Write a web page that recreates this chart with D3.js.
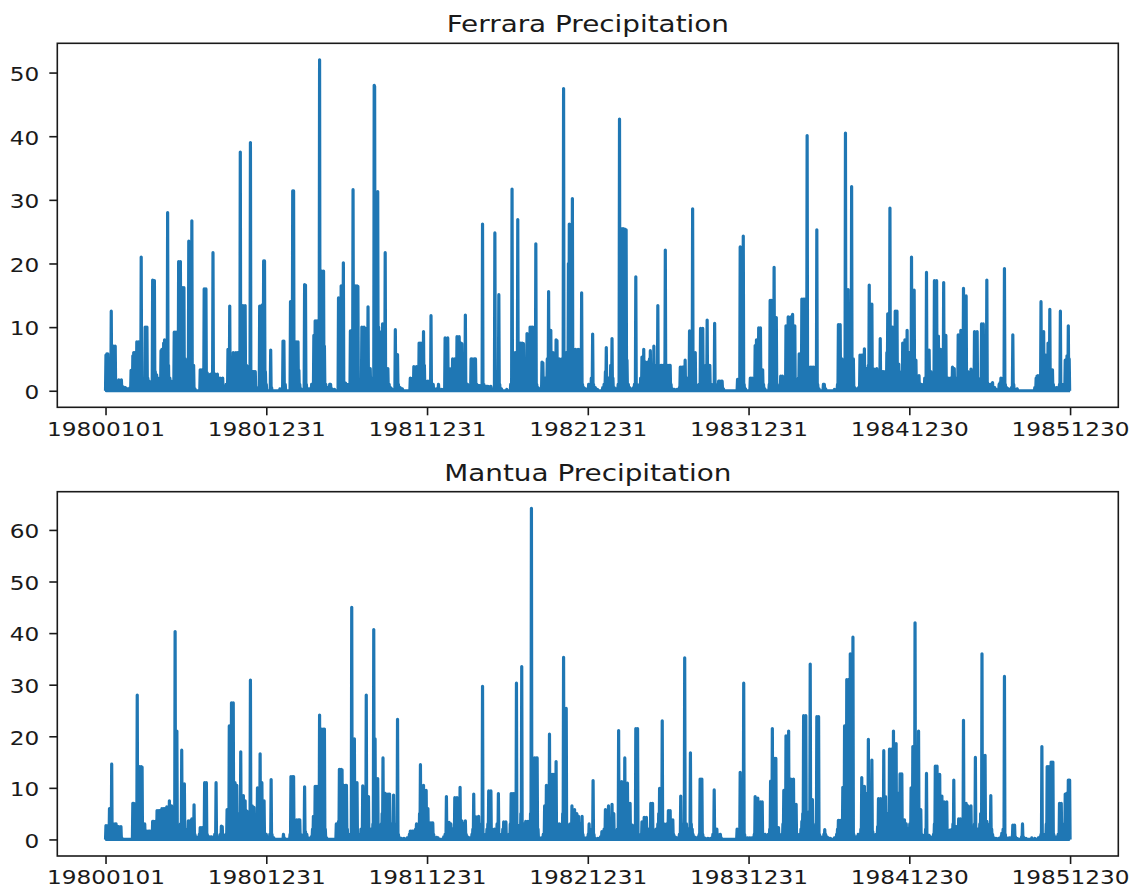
<!DOCTYPE html>
<html>
<head>
<meta charset="utf-8">
<script src="https://cdn.jsdelivr.net/npm/d3@7"></script>
<style>
  body { margin: 0; background: #fff; }
  svg { display: block; }
  text { font-family: "DejaVu Sans", sans-serif; fill: #1a1a1a; }
</style>
</head>
<body>
<svg id="chart" width="1134" height="888"></svg>
<script>
// Daily record 1980-01-01 .. 1985-12-30 (2191 days); days not listed had no rain.
const dayCount = 2191;
const tickDays = [0, 365, 730, 1095, 1460, 1825, 2190];
const tickLabels = ["19800101", "19801231", "19811231", "19821231", "19831231", "19841230", "19851230"];
const ferraraYTicks = [0, 10, 20, 30, 40, 50];
const mantuaYTicks = [0, 10, 20, 30, 40, 50, 60];

// [day index, precipitation in mm]
const ferraraRain = [
  [1,5.6],[3,5.8],[5,5.8],[7,1.2],[10,0.8],[13,12.5],[15,3],[18,7],[20,6.8],[22,7],[24,1],[30,1.7],[33,1.5],[36,1.7],[40,0.6],[45,0.5],[50,0.3],[55,0.4],
  [58,3.2],[60,1],[62,5.5],[64,6],[66,6],[68,2],[71,7.7],[73,7.5],[75,7.7],[78,1.5],[81,21],[84,2],[86,1],[90,10],[92,9.8],[94,10],[96,2],[99,1.5],[102,0.5],
  [107,17.4],[109,17],[111,17.3],[113,3],[116,2.5],[119,2],[122,1],[124,0.4],[126,6.3],[128,6.5],[130,6.3],[132,7.5],[134,8],[136,7.8],[138,4],[141,28],[143,4],
  [146,2],[149,1.5],[152,1],[156,9.2],[158,9],[160,9.2],[163,1],[166,20.3],[168,20],[170,20.3],[172,3],[174,16.2],[176,16],[178,16.2],[181,5],[184,2],[187,4.5],
  [189,23.5],[191,23.4],[193,5],[196,26.7],[198,4],[200,4],[203,0.3],[215,3.3],[217,3.2],[219,3.3],[222,1],[224,16],[226,15.8],[228,16],[231,2.8],[234,0.5],
  [236,2.5],[239,2.6],[241,1],[244,21.7],[246,2],[249,2.6],[251,2.5],[254,2.6],[257,0.4],[260,2],[263,1.8],[266,2],[270,0.5],[274,1],[278,6.5],[280,3],[282,13.3],
  [284,5],[286,4.8],[288,2],[290,6],[293,5.8],[296,6],[298,5.9],[300,6],[303,1],[306,37.5],[309,5],[312,13.4],[314,13.3],[317,13.4],[320,4],[323,3.8],[326,2],
  [329,39],[332,3],[335,3],[338,3],[340,3],[343,0.5],[350,13.3],[352,13.3],[354,2],[356,13.5],[359,20.4],[361,20.4],[363,3],[365,1],[375,6.4],[377,0.5],[396,0.3],
  [403,7.8],[405,7.8],[408,1],[420,14],[422,1],[425,31.4],[427,31.4],[429,3],[431,1],[433,7.7],[435,7.6],[437,7.7],[439,3.2],[441,1],[444,0.3],[452,16.7],[454,16.6],
  [456,1],[462,0.3],[468,1],[471,1],[473,8.7],[476,11],[478,10.9],[480,11],[483,1.5],[486,52],[489,7],[491,18.8],[493,18.7],[495,18.8],[497,7],[500,1],[504,0.5],
  [509,1],[511,1],[514,0.3],[520,0.2],[529,14.6],[531,14.5],[533,14.6],[535,16.5],[537,16.4],[540,20.1],[542,1.2],[545,1.2],[548,1],[551,0.5],[553,1],[556,9.4],
  [558,1],[562,31.6],[564,5],[567,16.5],[569,16.4],[571,16.5],[573,16.4],[575,1],[578,0.3],[582,10],[584,9.8],[587,10],[590,9.8],[593,2],[596,13.2],[598,3],
  [601,3.5],[603,1],[606,2],[610,48],[611,47.8],[615,4],[618,31.3],[620,10],[624,9.2],[626,3],[629,10.5],[632,4],[635,21.7],[637,3.5],[639,3.4],[641,3.5],[644,1],
  [647,0.5],[650,0.3],[658,9.6],[660,2],[663,5.7],[665,1],[669,0.5],[674,0.3],
  [692,2],[695,1.5],[698,2],[700,3.8],[702,3.7],[704,1],[706,3.8],[709,2],[712,7.5],[714,7.4],[716,7.5],[719,2],[722,9.3],[724,4],[727,1.5],[730,1],[732,1.5],
  [735,1],[739,11.8],[741,1],[744,1],[747,0.3],[752,0.3],[756,1],[758,0.3],[764,0.2],[771,8.3],[773,8.2],[775,2],[777,8.3],[780,3.5],[782,2],[785,3.5],[788,5],
  [790,3],[793,5],[795,2],[798,8.5],[800,8.4],[803,8.5],[805,3],[807,7.5],[809,7.4],[811,2],[814,1],[817,11.9],[819,1],[822,1],[826,0.5],[830,5],[832,5],[834,4.9],
  [837,5],[840,5],[843,1],[847,0.8],[850,0.8],[856,26.2],[859,1],[862,0.7],[865,0.7],[868,0.7],[871,0.6],[875,0.7],[880,0.3],[884,24.8],[886,3],[889,1],[891,2],
  [893,15.1],[895,1],[899,0.3],[911,0.2],[920,1],[923,31.7],[925,1],[928,3],[930,6],[932,1],[936,26.9],[939,2],[942,7.5],[944,7.4],[946,7.5],[949,7.4],[951,1],
  [955,2],[957,9],[959,2],[962,8],[964,10],[966,9.9],[968,10],[970,10],[972,2],[974,1],[977,23.1],[979,1],[982,0.5],[986,0.3],[991,4.5],[993,4.4],[995,1],[998,2],
  [1001,1],[1003,5],[1006,15.6],[1008,3],[1011,9.5],[1013,2],[1016,6],[1018,1],[1021,3],[1023,8],[1025,7.9],[1027,2],[1030,5],[1033,3],[1036,5],[1038,3],
  [1040,47.5],[1042,3],[1044,6],[1046,6],[1049,3],[1051,20],[1053,26.2],[1055,3],[1057,6],[1060,30.2],[1062,3],[1064,6.5],[1067,6.5],[1069,3],[1071,6.4],[1073,6.5],
  [1075,2],[1078,6.5],[1081,15.4],[1083,1],[1086,0.5],[1090,0.3],[1097,1],[1099,0.2],[1103,2],[1106,8.9],[1108,1],[1112,0.5],[1117,0.2],[1129,0.5],[1132,1],
  [1135,3],[1137,6.8],[1139,1],[1142,2],[1144,1],[1147,4],[1150,8.2],[1152,2],[1155,0.5],[1160,0.3],[1164,1],[1167,42.7],[1169,4],[1171,25.5],[1173,25.4],
  [1175,25.5],[1177,25.3],[1179,25.4],[1182,25.3],[1184,4.8],[1187,1],[1190,0.5],[1193,0.3],[1199,0.5],[1201,1],[1204,17.9],[1206,1],[1209,0.5],[1213,1],[1215,2],
  [1218,5.3],[1220,1],[1222,6.5],[1224,2],[1226,4.5],[1228,2],[1231,4.5],[1233,2],[1235,5],[1237,6.3],[1239,4],[1241,2],[1243,4],[1245,7],[1247,3],[1250,4],
  [1252,2],[1254,13.4],[1256,4],[1258,3],[1261,4],[1263,4],[1266,4],[1268,3],[1271,22.1],[1273,4],[1275,4],[1277,4],[1280,4],[1282,4],[1284,1],[1287,0.3],
  [1292,0.2],[1298,0.2],[1303,0.5],[1305,3.7],[1307,3.6],[1309,3.7],[1312,3.7],[1314,1],[1316,4.8],[1318,1],[1320,2],[1323,1],[1326,9.4],[1328,2],[1330,3],
  [1333,28.6],[1335,2],[1337,6],[1339,6],[1341,1],[1344,0.5],[1348,1],[1351,9.8],[1353,9.7],[1356,9.8],[1358,2],[1361,1],[1363,4],[1366,11.1],[1368,1],[1370,1],
  [1372,4],[1375,1],[1378,0.5],[1381,1],[1383,10.6],[1385,1],[1388,0.5],[1392,1.5],[1394,1.5],[1396,1.4],[1398,1.5],[1400,1.5],[1403,0.3],
  [1435,1.8],[1437,1.7],[1439,0.5],[1441,22.6],[1443,1],[1445,2],[1448,24.3],[1450,1],[1453,0.3],[1464,2],[1466,1.9],[1468,2],[1470,0.5],[1473,1],[1475,7.1],
  [1477,1],[1478,8],[1480,2],[1483,9.9],[1485,9.8],[1487,9.9],[1490,1],[1492,3.3],[1494,1],[1497,0.3],[1507,1],[1509,14.2],[1511,2],[1512,14.2],[1514,1],[1516,3],
  [1518,19.4],[1520,2],[1523,11.5],[1525,1],[1527,0.5],[1533,2.3],[1535,2.2],[1537,2.3],[1539,0.5],[1543,2],[1545,10.2],[1547,3],[1550,11.6],[1552,3],[1554,1],
  [1556,11.6],[1558,3],[1560,12],[1562,3],[1565,10.2],[1567,1],[1570,0.5],[1573,2],[1575,5.8],[1577,1],[1579,3],[1581,14.4],[1583,14.3],[1585,14.4],[1587,14.4],
  [1589,3],[1591,6],[1593,40.1],[1595,3],[1597,2],[1600,3.7],[1602,3.6],[1604,3.7],[1606,3.6],[1608,3.7],[1610,1],[1612,2],[1615,25.3],[1617,1],[1620,0.3],
  [1630,1],[1632,1],[1635,0.3],[1655,0.2],[1662,1],[1664,10.4],[1666,10.3],[1668,10.4],[1670,2],[1672,5],[1674,3],[1677,1],[1680,40.5],[1682,5],[1684,3],
  [1686,15.9],[1688,2],[1690,5],[1692,4],[1694,32.1],[1696,2],[1698,5],[1701,0.5],[1704,0.3],[1710,0.5],[1713,5.6],[1715,5.5],[1717,5.6],[1719,5.6],[1721,1],
  [1723,6.6],[1725,1],[1728,3.5],[1730,1],[1732,4],[1734,16.6],[1736,3],[1738,1],[1740,13.6],[1742,2],[1745,3.4],[1747,1],[1749,3],[1751,3.5],[1753,1],[1756,3],
  [1759,8.2],[1761,2],[1764,3],[1766,3],[1768,1],[1770,3],[1772,1],[1774,6],[1776,12.1],[1778,2],[1781,28.7],[1783,4],[1785,5],[1787,10],[1789,2],[1791,5],
  [1793,12.5],[1795,12.4],[1797,12.5],[1799,3],[1801,4.2],[1803,1],[1806,2],[1808,3],[1810,7.5],[1812,2],[1815,8],[1817,3],[1820,9.5],[1822,2],[1825,6],[1827,1],
  [1830,21],[1832,3],[1834,5],[1836,15.8],[1838,3],[1840,4.8],[1842,1],[1845,2],[1847,2.4],[1849,1],[1852,1],[1855,0.5],[1858,1],[1860,2],[1862,1],[1864,18.6],
  [1866,2],[1868,3],[1870,6.4],[1872,1],[1874,3],[1876,1],[1879,2],[1882,17.3],[1884,17.2],[1887,17.3],[1889,3],[1891,8.6],[1893,2],[1896,6.5],[1898,2],[1900,6],
  [1903,17],[1905,2],[1908,8.7],[1910,1],[1913,2],[1915,1],[1918,2],[1920,1],[1923,3.7],[1925,1],[1927,3.5],[1929,1],[1932,2],[1934,1],[1936,8.8],[1938,2],
  [1940,3],[1942,9.5],[1944,2],[1946,4],[1948,16.1],[1950,3],[1952,3],[1954,14.9],[1956,2],[1958,3],[1960,1],[1963,2],[1965,3.4],[1967,1],[1970,3],[1973,9.3],
  [1975,2],[1977,3],[1979,9.3],[1981,1],[1984,1],[1987,2],[1989,10.5],[1991,2],[1993,10.5],[1995,3],[1998,4],[2001,17.4],[2003,1],[2006,1],[2010,1],[2014,1.3],
  [2016,0.5],[2019,0.5],[2022,0.2],[2029,1],[2031,1.3],[2033,2],[2035,1],[2038,2],[2041,19.2],[2043,1],[2046,0.5],[2050,0.3],[2057,0.5],[2060,8.8],[2062,1],
  [2064,0.3],[2070,0.3],[2110,0.5],[2113,2],[2115,2.3],[2117,2.4],[2119,1],[2122,2],[2124,14],[2126,2],[2128,3],[2130,9.3],[2132,2],[2135,5.6],[2137,2],[2140,7.5],
  [2142,2],[2144,12.8],[2146,3],[2148,2],[2150,3.3],[2152,1],[2155,0.5],[2160,0.5],[2163,0.5],[2166,1],[2168,12.5],[2170,1],[2173,0.5],[2176,1],[2179,4.8],
  [2181,1],[2183,5.5],[2186,10.2],[2188,5]
];

const mantuaRain = [
  [1,2.7],[3,2.6],[5,2.7],[7,2.7],[9,6],[11,1],[14,14.6],[16,3],[18,3],[20,2.9],[22,3],[24,3],[26,1],[28,2.5],[30,2.5],[32,2.4],[35,2.5],[37,0.3],
  [62,7],[64,7],[66,6.9],[68,2],[70,3],[72,28],[74,5],[77,14.1],[79,14],[81,14.1],[83,14],[85,3],[87,2],[89,3],[91,1],[94,1.6],[96,1.5],[98,1.6],[101,1.6],
  [103,0.5],[105,1],[107,3.5],[109,3.5],[111,3.4],[113,3.5],[115,1],[117,5.6],[119,5.5],[121,5.6],[124,5.6],[126,2],[128,6],[130,5.9],[132,6],[134,6],[136,6],
  [138,2],[139,6.3],[141,2],[143,3],[145,7.5],[147,3],[150,6.5],[152,1],[155,2],[158,40.3],[160,3],[162,21],[164,2],[167,1],[170,3],[173,17.3],[175,3],[177,2],
  [179,10.8],[181,2],[183,1],[186,1],[188,3.6],[190,3.5],[192,3.6],[194,1],[196,4],[198,1],[201,6.7],[203,1],[206,0.5],[210,0.3],[213,1],[215,2.3],[217,2.2],
  [219,2.3],[221,0.5],[225,11],[227,10.9],[229,11],[231,1],[234,0.5],[237,0.5],[241,0.5],[245,0.3],[248,1],[251,11],[253,1],[256,0.3],[261,1],[263,2.6],[265,2.5],
  [267,1],[270,0.3],[274,1],[276,5.8],[278,5.7],[281,22],[283,5],[286,26.5],[288,26.4],[290,26.5],[292,5],[294,11],[296,5],[298,10.5],[300,3],[303,5],[305,2],
  [307,17],[309,3],[311,5],[313,8.5],[315,2],[317,7.5],[319,2],[321,5.5],[323,3],[326,2],[329,30.9],[331,3],[333,6.5],[335,2],[337,6.2],[339,2],[341,3],[343,1],
  [345,10],[347,2],[349,5],[351,16.6],[353,3],[355,11],[357,3],[360,7.5],[362,1],[365,1],[369,0.3],[373,1],[376,11.6],[378,1],[382,0.3],[404,1],[406,0.3],
  [419,1],[421,12.2],[423,12.1],[425,12.2],[427,12.2],[429,2],[432,1],[434,3.8],[436,3.7],[438,3.8],[441,3.8],[443,1],[446,0.5],[450,1],[452,10.2],[454,1.5],
  [457,1],[460,0.3],[467,0.5],[470,2],[472,4.5],[474,2],[476,10.3],[478,3],[480,10.3],[482,4],[484,5],[486,24.1],[488,5],[491,21.4],[493,21.3],[495,21.4],
  [497,21.4],[499,2],[502,0.3],
  [524,3],[527,1],[529,3.5],[531,13.6],[533,13.5],[535,13.6],[537,13.5],[539,2],[541,10.5],[543,10.4],[545,10.5],[547,10.5],[549,2],[551,0.5],[553,0.5],[556,1],
  [559,45],[561,3],[563,5],[565,19.5],[567,3],[569,2],[571,11],[573,1],[575,0.5],[578,1],[580,2],[582,1],[584,10.4],[586,3],[588,2],[590,5],[592,28],[594,3],
  [597,8.3],[599,2],[601,1],[603,2],[605,1],[607,3],[609,40.7],[611,3],[612,19.5],[614,3],[616,5],[618,11.8],[620,1],[622,2],[624,1],[626,3],[628,5],[630,15.8],
  [632,3],[634,9],[636,2],[639,8.8],[641,8.7],[643,8.8],[645,8.8],[647,2],[649,1],[651,3],[654,8.6],[656,1],[658,0.5],[660,3],[663,23.3],[665,1],[668,0.3],
  [672,0.2],[678,0.2],[685,0.3],[690,1],[692,1.6],[694,1.5],[696,1.6],[698,1.6],[700,1.6],[702,1],[704,2],[706,3],[708,1],[711,3],[713,5],[715,14.5],[717,3],
  [719,5],[722,10.5],[724,3],[726,4],[728,9.5],[730,2],[732,6],[734,1],[737,3.2],[739,3.1],[741,3.2],[743,3.2],[745,1],[748,0.3],[752,0.4],[755,0.3],[768,0.5],
  [771,1],[774,8.3],[776,3.3],[778,1],[780,3.3],[782,1],[784,3],[786,1],[788,2],[790,1],[793,8.1],[795,3],[798,8.1],[800,3],[802,4],[805,10.1],[807,2],[809,3.6],
  [811,2],[813,3],[815,1],[817,3.6],[819,1],[822,0.5],[826,0.3],[832,1],[834,2],[836,8.8],[838,2],[841,4.4],[843,1],[845,2],[847,4.5],[849,1],[852,2],[854,3],
  [856,29.7],[858,1],[861,0.5],[864,1],[866,2],[868,3],[870,9.4],[872,9.3],[875,9.4],[877,2],[880,1],[883,2],[886,1],[889,3],[892,8.9],[894,1],[897,0.5],[900,1],
  [902,2],[904,3.4],[906,3.3],[909,3.4],[911,1],[914,0.3],[917,1],[919,3],[921,8.9],[923,8.8],[925,8.9],[927,8.9],[929,2],[931,5],[933,30.3],[935,2.7],[937,1],
  [939,2.7],[941,1],[943,5],[945,33.5],[947,3],[949,1],[951,3],[954,3.5],[956,1],[959,3.5],[961,1],[963,3],[965,5],[967,64.2],[969,3],[971,5],[974,15.8],
  [976,15.7],[978,15.8],[980,15.8],[982,2],[985,0.3],[990,0.3],[994,1],[997,6.5],[999,2],[1001,10.5],[1003,3],[1005,5],[1008,20.4],[1010,3],[1012,5],[1014,12.6],
  [1016,3],[1018,12.6],[1020,3],[1023,15.1],[1025,3],[1027,2],[1030,3],[1033,1],[1036,3],[1038,5],[1040,35.3],[1042,3],[1044,5],[1046,25.4],[1048,3],[1050,2],
  [1053,1],[1055,3],[1057,2],[1059,6.5],[1061,3],[1063,4],[1065,5.8],[1067,2],[1070,5],[1072,2],[1074,4.5],[1076,2],[1078,3],[1080,1],[1082,4.5],[1084,1],
  [1087,0.3],[1092,0.3],[1096,1],[1098,3],[1100,1],[1103,0.5],[1105,2],[1107,11.4],[1109,1],[1112,0.2],[1118,0.2],[1124,0.5],[1127,1.5],[1129,0.5],[1132,2],
  [1135,5.8],[1137,2],[1139,3],[1142,6.5],[1144,2],[1146,3],[1148,2],[1150,6.8],[1152,2],[1154,5],[1156,1],[1159,0.5],[1162,2],[1165,21.1],[1167,3],[1169,5],
  [1172,11.2],[1174,3],[1176,5],[1179,15.8],[1181,3],[1183,5],[1185,10.9],[1187,2],[1189,3],[1191,7],[1193,1],[1196,2.8],[1198,1],[1201,0.5],[1204,21.5],
  [1206,3],[1208,21.5],[1210,1],[1213,0.5],[1216,1],[1218,3.4],[1220,1],[1223,4.3],[1225,2],[1228,4.3],[1230,1],[1232,2],[1234,1],[1236,2],[1238,7],[1240,2],
  [1242,7],[1244,1],[1247,1],[1250,2],[1252,1],[1254,3],[1256,5],[1258,9.9],[1260,2],[1262,4],[1264,23],[1266,2],[1268,3],[1270,2],[1272,1],[1274,3],[1276,1],
  [1278,5.6],[1280,2],[1282,5.6],[1284,1],[1286,2],[1288,3.8],[1290,1],[1293,0.5],[1297,0.3],[1300,0.3],[1303,1],[1306,8.4],[1308,1],[1311,2],[1313,3],
  [1315,35.2],[1317,2],[1319,3],[1321,1],[1323,2],[1325,1],[1328,16.8],[1330,3],[1332,2],[1334,1],[1337,0.5],[1341,0.3],[1346,0.5],[1348,1],[1350,11.7],
  [1352,1],[1354,11.7],[1356,1],[1359,0.3],[1362,0.2],[1368,0.2],[1374,0.2],[1379,1],[1382,9.6],[1384,2],[1386,1],[1388,2],[1390,1],[1393,0.5],[1396,1],
  [1398,0.3],[1434,2],[1436,1],[1438,2],[1441,13],[1443,3],[1446,5],[1449,30.3],[1451,1],[1454,0.3],[1458,0.3],[1463,0.3],[1468,0.3],[1473,1],[1475,8.3],
  [1477,2],[1479,1],[1481,8],[1483,2],[1485,1],[1487,7.3],[1489,2],[1491,7.3],[1493,1],[1495,0.5],[1498,1],[1501,0.5],[1505,1],[1508,2],[1510,11.3],[1512,2],
  [1514,21.5],[1516,2],[1518,15.7],[1520,2],[1522,15.7],[1524,2],[1526,1],[1528,2.3],[1530,1],[1533,0.5],[1536,1],[1538,3],[1540,9.5],[1542,3],[1545,20.1],
  [1547,3],[1549,5],[1551,21],[1553,3],[1556,11.7],[1558,3],[1560,4],[1562,11.7],[1564,3],[1566,5],[1568,6.8],[1570,1],[1573,0.5],[1576,1],[1579,2],[1581,3.5],
  [1583,5],[1585,24],[1587,23.9],[1590,24],[1592,3],[1594,5.3],[1596,1],[1598,3],[1600,34],[1602,3],[1605,7.7],[1607,1],[1610,0.5],[1613,3],[1615,23.8],
  [1617,3],[1619,23.8],[1621,1],[1624,0.5],[1627,0.3],[1631,1],[1633,1.9],[1635,1],[1638,0.5],[1641,0.3],[1646,0.2],[1655,0.3],[1660,1],[1662,2],[1664,3.7],
  [1666,1],[1668,3.7],[1670,2],[1672,3],[1674,10.1],[1676,3],[1678,22],[1680,3],[1683,31],[1685,5],[1687,31],[1689,5],[1691,36],[1693,5],[1695,3],[1697,39.2],
  [1699,1],[1701,0.5],[1705,0.5],[1709,1],[1712,0.5],[1715,2],[1717,12],[1719,3],[1721,5],[1723,10.3],[1725,9],[1727,3],[1729,2],[1732,19.4],[1736,3],[1738,2],
  [1740,15.4],[1742,1.5],[1744,1],[1747,0.5],[1750,1],[1753,2.5],[1755,7.9],[1757,7.8],[1760,7.9],[1762,3],[1764,5],[1767,17.2],[1769,3],[1771,8.3],[1773,3],
  [1775,5],[1777,3],[1780,17.5],[1782,3],[1784,17.5],[1786,5],[1789,21],[1791,5],[1793,8],[1795,18.6],[1797,3],[1799,9],[1801,3],[1804,12.7],[1806,3],[1808,12.7],
  [1810,2],[1812,1],[1814,3.8],[1816,1],[1818,3],[1820,1],[1822,2],[1824,1],[1826,3],[1829,10],[1831,3],[1833,18],[1835,5],[1838,42],[1840,3],[1843,5],[1846,21],
  [1848,3],[1851,5.8],[1853,1],[1856,0.8],[1859,0.5],[1862,2],[1864,12.8],[1866,0.8],[1868,0.5],[1870,0.8],[1873,0.5],[1876,0.3],[1880,1],[1882,3],[1884,14.2],
  [1886,3],[1888,14.2],[1890,5],[1892,3],[1894,12.6],[1896,3],[1899,8.4],[1901,3],[1904,7.3],[1906,2],[1908,5],[1910,7.3],[1912,1],[1914,0.5],[1917,1.8],[1919,1],
  [1922,2],[1924,3],[1926,11.5],[1928,2.5],[1930,1],[1932,2.5],[1935,1],[1937,4],[1939,1],[1941,4],[1943,2],[1945,3],[1948,23.1],[1950,3],[1952,2],[1954,7],
  [1956,2],[1958,6.5],[1960,2],[1962,3],[1965,6.5],[1967,1],[1969,2],[1971,1],[1973,3],[1975,15.9],[1977,2],[1979,1],[1981,2],[1983,1],[1985,3],[1987,5],[1990,36],
  [1992,3],[1994,5],[1997,16.3],[1999,3],[2001,3.5],[2003,1],[2006,2],[2008,3],[2010,8.5],[2012,2],[2014,1],[2017,0.3],[2022,0.2],[2028,0.2],[2033,0.5],[2035,1.2],
  [2038,2],[2041,31.6],[2043,1],[2046,0.3],[2052,0.3],[2058,0.5],[2060,2.8],[2062,1],[2064,2.8],[2066,0.5],[2070,0.2],[2080,0.5],[2082,3],[2084,0.5],[2090,0.2],
  [2103,0.3],[2110,0.2],[2118,0.3],[2122,0.5],[2124,1],[2126,18],[2128,1],[2131,0.5],[2134,1],[2136,3],[2138,14.1],[2140,3],[2142,14.1],[2144,3],[2147,15],
  [2149,3],[2151,15],[2153,1],[2156,0.5],[2160,0.5],[2163,1],[2166,7],[2168,1],[2170,7],[2172,0.5],[2175,1],[2177,3],[2179,8.8],[2181,3],[2183,9],[2186,11.5],
  [2188,3],[2189,11.5]
];

// Expand the rain-day lists into full daily series (dry days = 0 mm).
function dailySeries(rainDays) {
  const s = new Array(dayCount).fill(0);
  rainDays.forEach(([d, mm]) => { s[d] = mm; });
  return s;
}

const svg = d3.select("#chart");
const plotLeft = 57.3, plotRight = 1118.3;
const textStretch = 1.19;       // glyphs drawn slightly wide
const tickFont = 19.5, titleFont = 23.4;
const lineColor = "#1f77b4", inkColor = "#1a1a1a";

const panels = [
  { id: "ferrara", title: "Ferrara Precipitation", top: 43.3, bottom: 407.3, titleY: 32.3, series: dailySeries(ferraraRain), yTicks: ferraraYTicks },
  { id: "mantua",  title: "Mantua Precipitation",  top: 491.7, bottom: 856,  titleY: 480.7, series: dailySeries(mantuaRain),  yTicks: mantuaYTicks }
];

// x: day index with 5% padding on both sides
const last = dayCount - 1;
const x = d3.scaleLinear().domain([-0.05 * last, 1.05 * last]).range([plotLeft, plotRight]);

panels.forEach(p => {
  const maxV = d3.max(p.series), minV = d3.min(p.series);
  const pad = 0.05 * (maxV - minV);
  const y = d3.scaleLinear().domain([minV - pad, maxV + pad]).range([p.bottom, p.top]);

  const g = svg.append("g").attr("class", "panel-" + p.id);

  g.append("clipPath").attr("id", "clip-" + p.id)
    .append("rect").attr("x", plotLeft).attr("y", p.top)
    .attr("width", plotRight - plotLeft).attr("height", p.bottom - p.top);

  const line = d3.line().x((v, i) => x(i)).y(v => y(v));
  g.append("path")
    .datum(p.series)
    .attr("clip-path", "url(#clip-" + p.id + ")")
    .attr("fill", "none")
    .attr("stroke", lineColor)
    .attr("stroke-width", 3.2)
    .attr("stroke-linejoin", "round")
    .attr("stroke-linecap", "butt")
    .attr("d", line);

  // x axis
  const xAxis = g.append("g")
    .attr("transform", `translate(0,${p.bottom})`)
    .call(d3.axisBottom(x).tickValues(tickDays).tickFormat((d, i) => tickLabels[i]).tickSize(8).tickSizeOuter(0));
  xAxis.select(".domain").remove();
  xAxis.selectAll(".tick line").attr("stroke", inkColor).attr("stroke-width", 1.6);
  xAxis.selectAll(".tick text")
    .attr("y", 14.4).attr("dy", "0.71em")
    .attr("transform", `scale(${textStretch},1)`)
    .style("font-size", tickFont + "px").style("fill", inkColor);

  // y axis
  const yAxis = g.append("g")
    .attr("transform", `translate(${plotLeft},0)`)
    .call(d3.axisLeft(y).tickValues(p.yTicks).tickFormat(d3.format("d")).tickSize(8).tickSizeOuter(0));
  yAxis.select(".domain").remove();
  yAxis.selectAll(".tick line").attr("stroke", inkColor).attr("stroke-width", 1.6);
  yAxis.selectAll(".tick text")
    .attr("x", -18 / textStretch).attr("dy", "0.4em")
    .attr("transform", `scale(${textStretch},1)`)
    .style("font-size", tickFont + "px").style("fill", inkColor);

  // frame
  g.append("rect")
    .attr("x", plotLeft).attr("y", p.top)
    .attr("width", plotRight - plotLeft).attr("height", p.bottom - p.top)
    .attr("fill", "none").attr("stroke", inkColor).attr("stroke-width", 1.6);

  // title
  g.append("text")
    .attr("transform", `translate(${(plotLeft + plotRight) / 2},${p.titleY}) scale(${textStretch},1)`)
    .attr("text-anchor", "middle")
    .style("font-size", titleFont + "px")
    .style("fill", inkColor)
    .text(p.title);
});
</script>
</body>
</html>
